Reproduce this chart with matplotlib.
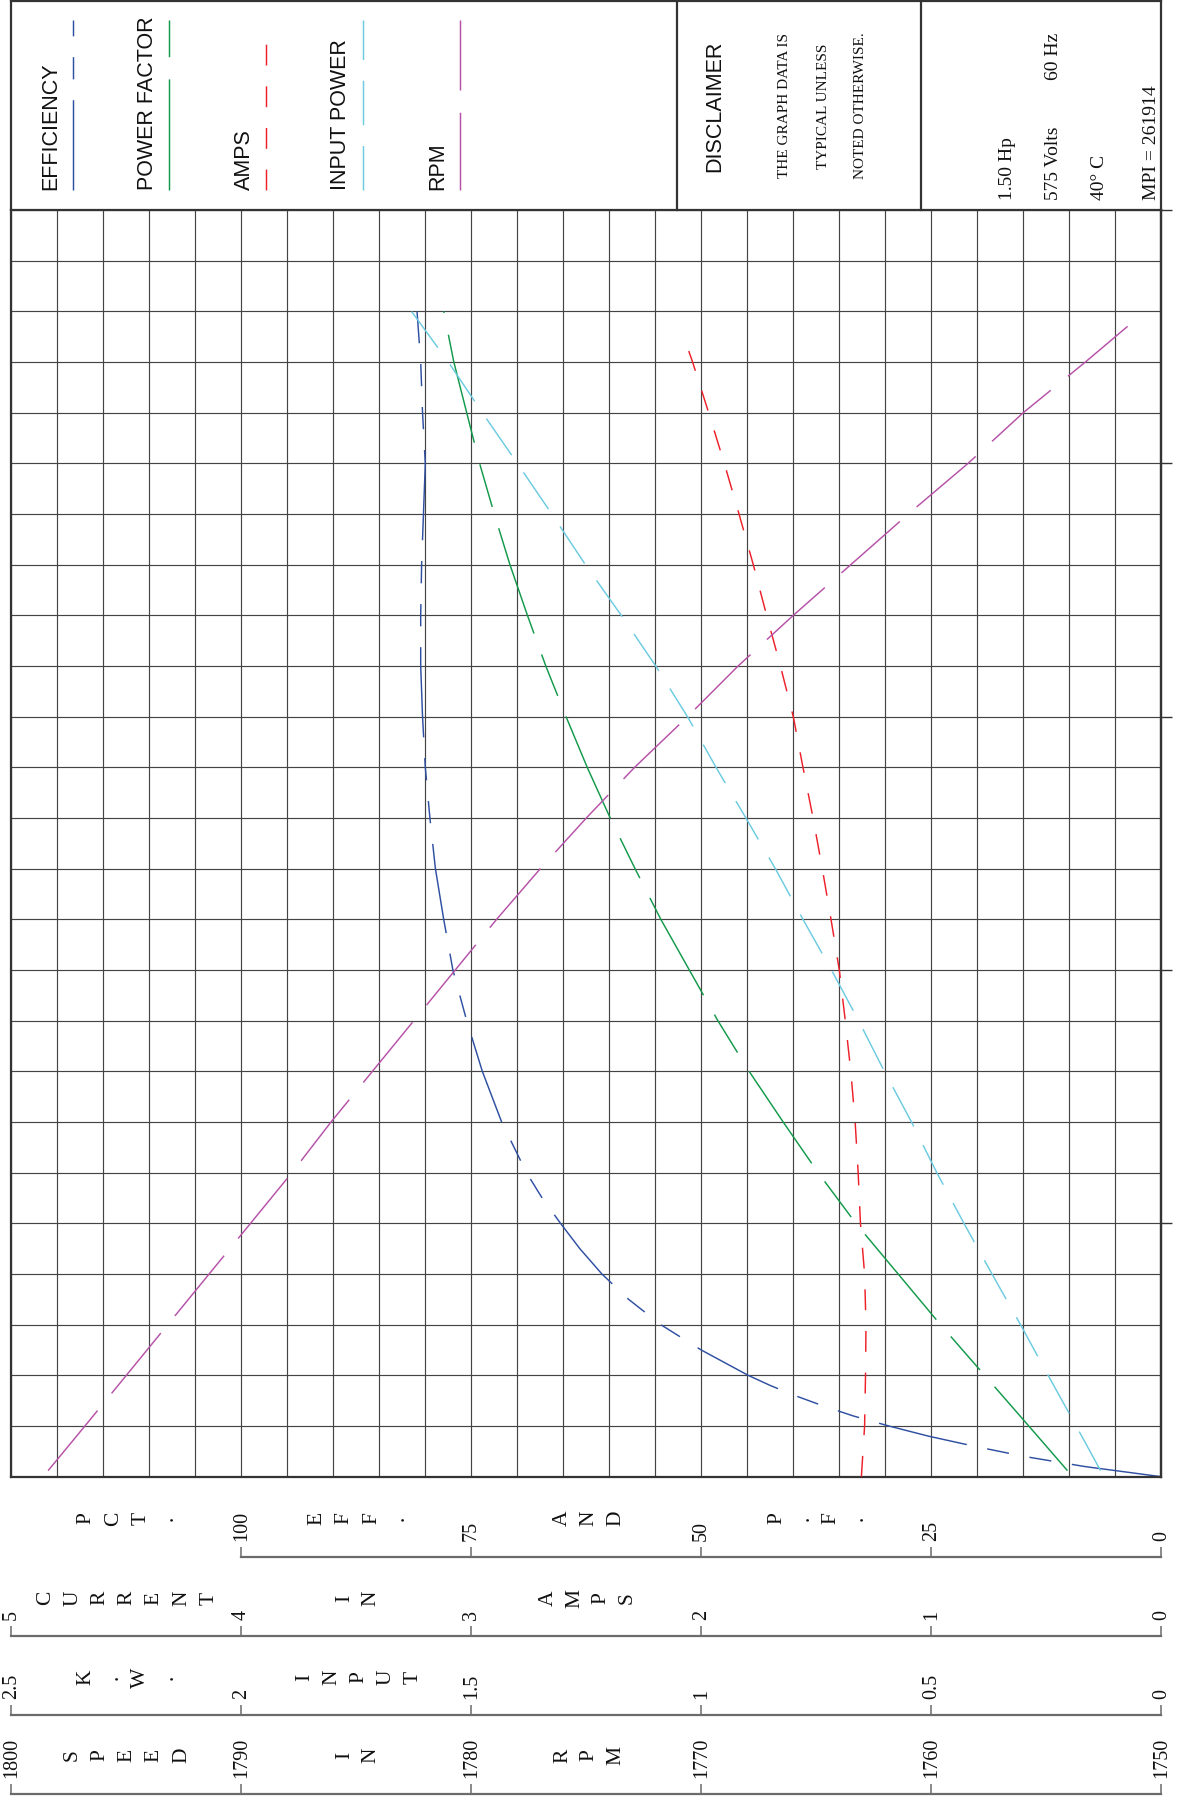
import matplotlib
matplotlib.use('Agg')
import matplotlib.pyplot as plt
from matplotlib.ticker import NullLocator

plt.rcParams['lines.scale_dashes'] = False
plt.rcParams['font.family'] = ['Liberation Sans', 'DejaVu Sans']

# ---------------- data ----------------
# load axis (percent of rated load), vertical in the picture
eff_load = [0, 1, 2, 3, 4, 5, 6, 7, 8, 9, 10, 12.5, 15, 17.5, 20, 22.5, 25, 27.5, 30,
            35, 40, 45, 50, 55, 60, 65, 70, 75, 80, 85, 90, 95, 100, 105, 110, 115]
efficiency = [0, 8.3, 14.9, 20.3, 25.3, 29.6, 33.5, 36.8, 39.8, 42.5, 44.9, 50.0, 54.4,
              57.9, 60.8, 63.2, 65.3, 67.3, 69.0, 71.7, 73.8, 75.5, 77.0, 78.0, 78.9,
              79.5, 80.0, 80.3, 80.5, 80.5, 80.4, 80.2, 80.0, 80.3, 80.5, 80.9]

pf_load = [0.6, 5, 10, 15, 20, 25, 30, 35, 40, 45, 50, 55, 60, 65, 70, 75, 80, 85, 90,
           95, 100, 105, 110, 115]
power_factor = [10.2, 14.4, 19.2, 24.0, 28.6, 33.2, 37.3, 41.1, 44.8, 48.2, 51.3, 54.4,
                57.2, 59.9, 62.4, 64.7, 66.9, 68.9, 70.8, 72.5, 74.1, 75.5, 76.9, 78.0]

amps_load = [0, 5, 10, 15, 20, 25, 30, 35, 40, 45, 50, 55, 60, 65, 70, 75, 80, 85, 90,
             95, 100, 105, 110, 113]
amps = [1.304, 1.290, 1.286, 1.284, 1.290, 1.308, 1.318, 1.331, 1.350, 1.374, 1.400,
        1.436, 1.474, 1.514, 1.558, 1.600, 1.656, 1.716, 1.774, 1.836, 1.900, 1.968,
        2.038, 2.084]

kw_load = [0.6, 5, 10, 15, 20, 25, 30, 35, 40, 45, 50, 55, 60, 65, 70, 75, 80, 85, 90,
           95, 100, 105, 110, 115]
input_kw = [0.132, 0.185, 0.246, 0.306, 0.368, 0.429, 0.488, 0.543, 0.602, 0.658, 0.717,
            0.779, 0.839, 0.903, 0.968, 1.030, 1.099, 1.174, 1.252, 1.325, 1.400, 1.476,
            1.550, 1.630]

rpm_load = [0.6, 5, 10, 15, 20, 25, 30, 35, 40, 45, 50, 55, 60, 65, 70, 75, 80, 85, 90,
            95, 100, 105, 110, 114.6]
rpm = [1798.4, 1796.8, 1795.0, 1793.2, 1791.4, 1789.6, 1787.8, 1786.1, 1784.3, 1782.5,
       1780.7, 1778.9, 1777.0, 1775.0, 1772.9, 1770.6, 1768.4, 1766.0, 1763.5, 1761.0,
       1758.4, 1756.0, 1753.3, 1750.9]

pct_ticks = [0, 25, 50, 75, 100]
amp_ticks = [0, 1, 2, 3, 4, 5]
kw_ticks = [0, 0.5, 1, 1.5, 2, 2.5]
kw_tick_labels = ['0', '0.5', '1', '1.5', '2', '2.5']
rpm_ticks = [1750, 1760, 1770, 1780, 1790, 1800]

legend_names = ['EFFICIENCY', 'POWER FACTOR', 'AMPS', 'INPUT POWER', 'RPM']
disclaimer_lines = ['THE GRAPH DATA IS', 'TYPICAL UNLESS', 'NOTED OTHERWISE.']
info_lines = ['1.50 Hp', '575 Volts', '40\u00b0 C', 'MPI = 261914']
info_hz = '60 Hz'

# ---------------- styles ----------------
C_EFF, C_PF, C_AMPS, C_KW, C_RPM = '#2f4fa2', '#12994a', '#ee2029', '#6ccbe0', '#b651a8'
D_EFF = (0, (65, 15, 16, 15, 16, 15))
D_PF = (0, (80, 16, 32, 16))
D_AMPS = (0, (15, 15))
D_KW = (0, (32, 15))
D_RPM = (0, (56, 16))
LW = 1.05
SERIF = 'Liberation Serif'

W, H = 1179, 1806
fig = plt.figure(figsize=(W / 100, H / 100), dpi=100)

PX_L, PX_R, PX_T, PX_B = 11.3, 1161.3, 211.0, 1477.7


def fx(x):
    return x / W


def fy(y):
    return 1 - y / H


ax = fig.add_axes([fx(PX_L), fy(PX_B), (PX_R - PX_L) / W, (PX_B - PX_T) / H])
ax.set_xlim(125, 0)
ax.set_ylim(0, 125)
ax.set_xticks(range(0, 126, 5))
ax.set_yticks(range(0, 126, 5))
ax.grid(True, color='#444444', lw=0.85)
ax.set_axisbelow(True)
ax.tick_params(length=0, labelbottom=False, labelleft=False)
for sp in ax.spines.values():
    sp.set_linewidth(1.6)
    sp.set_color('#333333')

sec = ax.secondary_yaxis('right')
sec.set_yticks([25, 50, 75, 100, 125])
sec.set_yticklabels([])
sec.tick_params(direction='out', length=8, width=1.0, color='#333333')
sec.spines['right'].set_color('#333333')
sec.spines['right'].set_linewidth(1.6)

# twin axes for the other scales
ax_amp = ax.twiny()
ax_amp.set_xlim(5, 0)
ax_amp.set_axis_off()
ax_kw = ax.twiny()
ax_kw.set_xlim(2.5, 0)
ax_kw.set_axis_off()
ax_rpm = ax.twiny()
ax_rpm.set_xlim(1800, 1750)
ax_rpm.set_axis_off()

ax.plot(efficiency, eff_load, color=C_EFF, lw=LW, ls=D_EFF)
ax.plot(power_factor, pf_load, color=C_PF, lw=LW, ls=D_PF)
ax_amp.plot(amps, amps_load, color=C_AMPS, lw=LW, ls=D_AMPS)
ax_kw.plot(input_kw, kw_load, color=C_KW, lw=LW, ls=D_KW)
ax_rpm.plot(rpm, rpm_load, color=C_RPM, lw=LW, ls=D_RPM)


# ---------------- bottom scales ----------------
def scale_axis(ypx, lim, ticks, labels, bounds=None):
    s = fig.add_axes([fx(PX_L), fy(ypx), (PX_R - PX_L) / W, 0.0001])
    s.set_xlim(*lim)
    s.patch.set_visible(False)
    for k in ['left', 'right', 'bottom']:
        s.spines[k].set_visible(False)
    s.spines['top'].set_linewidth(1.6)
    s.spines['top'].set_color('#6b6b6b')
    if bounds is not None:
        s.spines['top'].set_bounds(*bounds)
    s.yaxis.set_major_locator(NullLocator())
    s.xaxis.set_ticks_position('top')
    s.set_xticks(ticks)
    s.set_xticklabels(labels, family=SERIF, fontsize=14.5)
    s.tick_params(axis='x', direction='out', length=7.2, width=1.1, color='#6b6b6b',
                  labelcolor='#111111', pad=5, labelrotation=90,
                  labeltop=True, labelbottom=False)
    return s


scale_axis(1557.7, (125, 0), pct_ticks, [str(t) for t in pct_ticks], bounds=(0, 100))
scale_axis(1636.7, (5, 0), amp_ticks, [str(t) for t in amp_ticks])
scale_axis(1716.0, (2.5, 0), kw_ticks, kw_tick_labels)
scale_axis(1795.0, (1800, 1750), rpm_ticks, [str(t) for t in rpm_ticks])

# ---------------- overlay for header and stacked letters ----------------
ov = fig.add_axes([0, 0, 1, 1])
ov.set_xlim(0, W)
ov.set_ylim(H, 0)
ov.axis('off')

BOX = dict(color='#333333', lw=1.6, solid_capstyle='projecting')
ov.plot([PX_L, PX_R], [1.5, 1.5], **BOX)
ov.plot([PX_L, PX_L], [1.5, PX_T], **BOX)
ov.plot([PX_R, PX_R], [1.5, PX_T], **BOX)
ov.plot([677, 677], [1.5, PX_T], **BOX)
ov.plot([921, 921], [1.5, PX_T], **BOX)

leg_colors = [C_EFF, C_PF, C_AMPS, C_KW, C_RPM]
leg_dashes = [D_EFF, D_PF, D_AMPS, D_KW, D_RPM]
leg_tops = [21, 21, 42, 21, 21]
for i, (name, c, d, top) in enumerate(zip(legend_names, leg_colors, leg_dashes, leg_tops)):
    bx = 56.4 + i * 96.6
    lx = 72.5 + i * 96.8
    ov.text(bx, 190, name, rotation=90, rotation_mode='anchor', ha='left', va='baseline',
            fontsize=15.5, color='#111111')
    ov.plot([lx, lx], [191, top], color=c, lw=LW, ls=d)

ov.text(720, 106, 'DISCLAIMER', rotation=90, rotation_mode='anchor', ha='center',
        va='baseline', fontsize=15.5, color='#111111')
for txt, bx in zip(disclaimer_lines, [788.5, 827, 864]):
    ov.text(bx, 106, txt, rotation=90, rotation_mode='anchor', ha='center', va='baseline',
            fontsize=11, family=SERIF, color='#111111')

for txt, bx in zip(info_lines, [1012, 1058, 1104, 1156]):
    ov.text(bx, 200, txt, rotation=90, rotation_mode='anchor', ha='left', va='baseline',
            fontsize=14, family=SERIF, color='#111111')
ov.text(1058, 80, info_hz, rotation=90, rotation_mode='anchor', ha='left', va='baseline',
        fontsize=14, family=SERIF, color='#111111')

# stacked (rotated) axis captions: (word, first baseline x, pitch)
rows = [
    (1518.5, [('PCT.', 90, 27.7), ('EFF.', 321, 27.7), ('AND', 567, 26.8),
              ('P.F.', 781, 27.2)]),
    (1598.3, [('CURRENT', 50, 27.2), ('IN', 349, 26.7), ('AMPS', 552.5, 26.5)]),
    (1677.5, [('K.W.', 90, 27.7), ('INPUT', 308.7, 27.3)]),
    (1755.5, [('SPEED', 77, 27.3), ('IN', 349, 26.7), ('RPM', 567, 26.8)]),
]
for yc, groups in rows:
    for word, x0, pitch in groups:
        for j, ch in enumerate(word):
            ov.text(x0 + j * pitch, yc, ch, rotation=90, rotation_mode='anchor',
                    ha='center', va='baseline', fontsize=15.5, family=SERIF,
                    color='#111111')

fig.savefig('out.png', dpi=100)
